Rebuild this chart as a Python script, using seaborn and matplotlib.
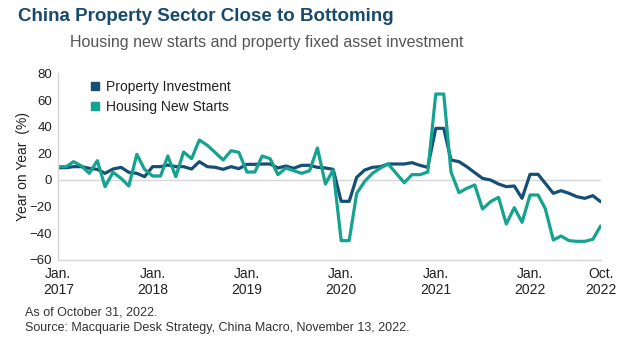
import matplotlib
matplotlib.use("Agg")
import matplotlib.pyplot as plt
from matplotlib.lines import Line2D
import seaborn as sns
import pandas as pd

# Monthly year-on-year growth (%), Jan 2017 - Oct 2022
months = pd.date_range("2017-01-01", "2022-10-01", freq="MS")

property_investment = [
    9.25, 9.25, 10, 10, 8.75, 8, 5, 8.25, 9.5, 5.75, 5, 2.5,          # 2017
    10, 10, 11.25, 10, 10, 8.25, 13.75, 10, 9.5, 8, 10, 8.5,          # 2018
    11.75, 11.75, 12, 12, 9, 10.5, 8.75, 11, 11, 9.5, 9, 8,           # 2019
    -16, -16, 2, 7.5, 9.5, 10, 12, 12, 12, 13, 11, 9.5,               # 2020
    38.75, 38.75, 15, 13.75, 10, 5.5, 1.25, 0, -3, -5, -4.5, -13.75,  # 2021
    4.25, 4.25, -2.5, -10, -8, -10, -12.5, -13.75, -11.75, -16.25,    # 2022
]

housing_new_starts = [
    10, 10, 13.75, 10.5, 5, 14.5, -5, 5.75, 1.25, -4.5, 19.25, 8,               # 2017
    3, 3, 18, 2.5, 21, 16, 30, 26, 20.5, 15, 22, 20.75,                         # 2018
    6, 6, 18, 16, 4, 9, 7, 5, 7, 24, -3, 7.5,                                   # 2019
    -45.5, -45.5, -10, -1, 5, 9, 12, 5, -2, 4, 4, 6,                            # 2020
    64.5, 64.5, 6, -9.5, -6.25, -3.75, -21.75, -16.25, -13, -33, -20.75, -31.75,  # 2021
    -11.25, -11.25, -21.5, -45, -42, -45.5, -46, -46, -44.5, -34.5,             # 2022
]

series_names = ["Property Investment", "Housing New Starts"]
series_colors = ["#164f75", "#14a38e"]

tick_dates = pd.to_datetime(["2017-01-01", "2018-01-01", "2019-01-01", "2020-01-01",
                             "2021-01-01", "2022-01-01", "2022-10-01"])
tick_labels = ["Jan.\n2017", "Jan.\n2018", "Jan.\n2019", "Jan.\n2020",
               "Jan.\n2021", "Jan.\n2022", "Oct.\n2022"]
y_ticks = [-60, -40, -20, 0, 20, 40, 60, 80]

df = pd.DataFrame({
    "month": list(months) * 2,
    "value": property_investment + housing_new_starts,
    "series": [series_names[0]] * len(months) + [series_names[1]] * len(months),
})

sns.set_style("white")
plt.rcParams["font.family"] = ["Liberation Sans", "DejaVu Sans"]

fig = plt.figure(figsize=(6.3, 3.46), dpi=100)
ax = fig.add_axes([0.0925, 0.2486, 0.8608, 0.5394])

sns.lineplot(data=df, x="month", y="value", hue="series",
             palette=dict(zip(series_names, series_colors)),
             linewidth=2.3, ax=ax, legend=False)

grid_col = "#d6d6d6"
text_col = "#222222"
ax.axhline(0, color=grid_col, linewidth=1, zorder=0)
ax.set_xlim(months[0], months[-1])
ax.set_ylim(-60, 80)
ax.set_yticks(y_ticks)
ax.set_xticks(tick_dates)
ax.set_xticklabels(tick_labels)
ax.tick_params(axis="y", direction="in", length=10, width=1, color=grid_col,
               labelsize=9.5, pad=4.5, labelcolor=text_col)
ax.tick_params(axis="x", length=0, labelsize=10, pad=5, labelcolor=text_col)
for side in ("top", "right"):
    ax.spines[side].set_visible(False)
for side in ("left", "bottom"):
    ax.spines[side].set_color(grid_col)
    ax.spines[side].set_linewidth(1)

ax.set_xlabel("")
ax.set_ylabel("Year on Year  (%)", fontsize=10, color=text_col)
ax.yaxis.set_label_coords(-0.053, 0.5)

handles = [Line2D([], [], marker="s", linestyle="none", markersize=5.5, color=c)
           for c in series_colors]
leg = ax.legend(handles, series_names, loc="upper left", bbox_to_anchor=(0.048, 0.995),
                frameon=False, fontsize=10, handlelength=0.7, handletextpad=0.45,
                labelspacing=0.42, borderaxespad=0)
for t in leg.get_texts():
    t.set_color(text_col)

fig.text(0.0286, 0.951, "China Property Sector Close to Bottoming", fontsize=13.5,
         fontweight="bold", color="#174a6e", va="center", ha="left")
fig.text(0.111, 0.876, "Housing new starts and property fixed asset investment",
         fontsize=11.5, color="#555555", va="center", ha="left")
fig.text(0.0397, 0.0954, "As of October 31, 2022.", fontsize=9, color="#333333",
         va="center", ha="left")
fig.text(0.0397, 0.052, "Source: Macquarie Desk Strategy, China Macro, November 13, 2022.",
         fontsize=9, color="#333333", va="center", ha="left")

fig.savefig("out.png", dpi=100)
